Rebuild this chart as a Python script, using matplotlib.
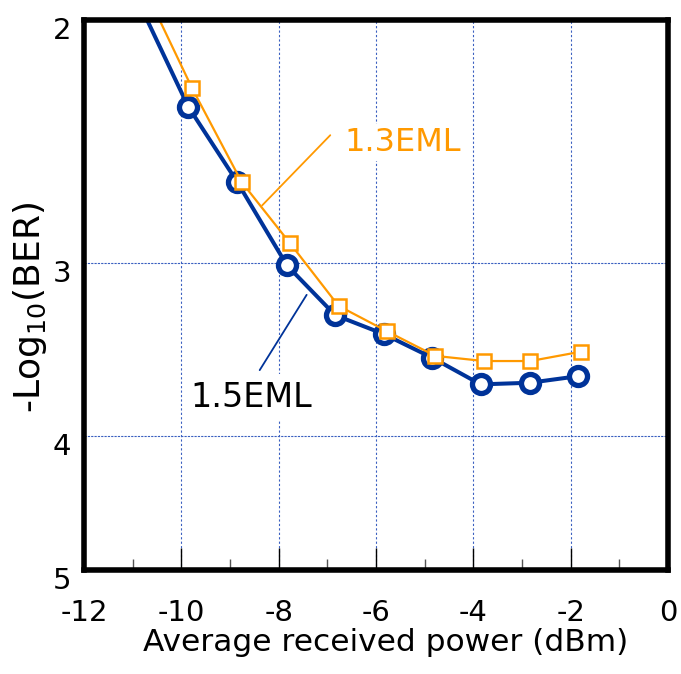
import matplotlib
matplotlib.use('Agg')
import matplotlib.pyplot as plt
import matplotlib.transforms as mtransforms
from matplotlib.ticker import FixedLocator, NullLocator

# 1.5EML (first point lies above the frame, only the line shows)
x_15 = [-10.85, -9.86, -8.85, -7.83, -6.84, -5.84, -4.85, -3.85, -2.84, -1.84]
ber_15 = [1.95, 2.31, 2.62, 3.01, 3.27, 3.375, 3.51, 3.67, 3.66, 3.62]

# 1.3EML
x_13 = [-10.78, -9.78, -8.76, -7.77, -6.77, -5.77, -4.78, -3.78, -2.83, -1.78]
ber_13 = [1.89, 2.24, 2.62, 2.90, 3.22, 3.36, 3.50, 3.53, 3.53, 3.475]

x_ticks = [-12, -10, -8, -6, -4, -2, 0]
y_ticks = [2, 3, 4, 5]

BLUE = '#003399'
ORANGE = '#FF9900'
GRID = '#3a5fc0'
COND = ['DejaVu Sans Condensed', 'DejaVu Sans']

plt.rcParams['font.family'] = ['DejaVu Sans']

fig = plt.figure(figsize=(6.81, 6.74), dpi=100)
ax = fig.add_axes([0.1233, 0.1543, 0.8577, 0.816])

# grid
for xv in [-10, -8, -6, -4, -2]:
    ax.axvline(xv, color=GRID, lw=0.8, ls=(0, (2, 2)), zorder=1)
for yv in [3, 4]:
    ax.axhline(yv, color=GRID, lw=0.8, ls=(0, (2, 1)), zorder=1)

ax.plot(x_13, ber_13, color=ORANGE, lw=1.6, marker='s', markersize=9.5,
        markerfacecolor='white', markeredgecolor=ORANGE, markeredgewidth=1.8,
        markevery=list(range(1, len(x_13))), zorder=3)
ax.plot(x_15, ber_15, color=BLUE, lw=2.9, marker='o', markersize=13,
        markerfacecolor='white', markeredgecolor=BLUE, markeredgewidth=3.8,
        markevery=list(range(1, len(x_15))), zorder=2)

# labels with leader lines
ax.annotate('', xy=(-8.38, 2.733), xytext=(-6.90, 2.415),
            arrowprops=dict(arrowstyle='-', color=ORANGE, lw=1.3), zorder=4)
ax.annotate('', xy=(-8.42, 3.598), xytext=(-7.395, 3.149),
            arrowprops=dict(arrowstyle='-', color=BLUE, lw=1.3), zorder=4)
ax.text(-6.64, 2.452, '1.3EML', color=ORANGE, fontsize=23, va='center', ha='left',
        family=COND, bbox=dict(facecolor='white', edgecolor='none', pad=2), zorder=4)
ax.text(-9.81, 3.753, '1.5EML', color='black', fontsize=24, va='center', ha='left',
        family=COND, bbox=dict(facecolor='white', edgecolor='none', pad=5), zorder=4)

ax.set_xlim(-12, 0)
ax.set_yscale('log')
ax.set_ylim(5, 2)

ax.xaxis.set_major_locator(FixedLocator(x_ticks))
ax.xaxis.set_minor_locator(FixedLocator([-11, -9, -7, -5, -3, -1]))
ax.set_xticklabels([str(v) for v in x_ticks])
ax.yaxis.set_major_locator(FixedLocator(y_ticks))
ax.yaxis.set_minor_locator(NullLocator())
ax.set_yticklabels([str(v) for v in y_ticks])

ax.tick_params(axis='x', which='major', direction='in', length=16, width=1,
               labelsize=21, pad=21)
ax.tick_params(axis='x', which='minor', direction='in', length=8, width=1,
               color='#555555')
ax.tick_params(axis='y', which='major', length=0, labelsize=21, pad=9)

# y tick labels sit a little lower than their ticks
offset = mtransforms.ScaledTranslation(0, -8 / 100, fig.dpi_scale_trans)
for lab in ax.get_yticklabels():
    lab.set_transform(lab.get_transform() + offset)

for sp in ax.spines.values():
    sp.set_linewidth(4)
    sp.set_zorder(5)

ax.set_xlabel('Average received power (dBm)', fontsize=22.5)
ax.xaxis.set_label_coords(0.517, -0.105)
ax.set_ylabel(r'-Log$_{10}$(BER)', fontsize=26)
ax.yaxis.set_label_coords(-0.06, 0.478)

fig.savefig('out.png', dpi=100)
